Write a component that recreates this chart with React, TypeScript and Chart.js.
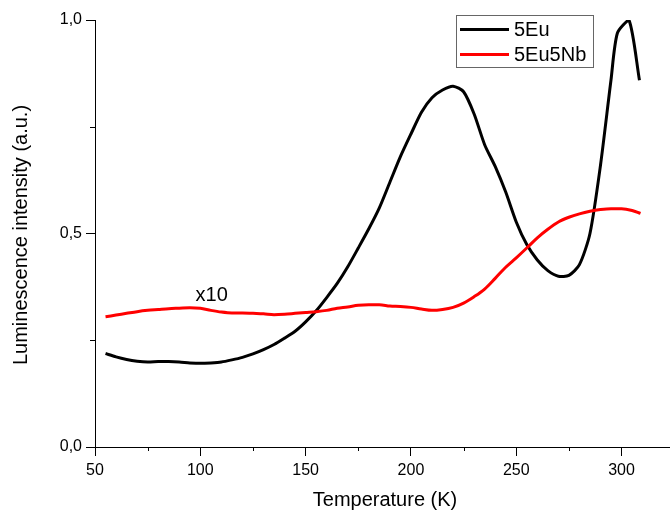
import React, { useEffect, useRef } from "react";
import { Chart, registerables } from "chart.js";

Chart.register(...registerables);

const temps5Eu = [55, 60, 65, 70, 75, 80, 85, 90, 95, 100, 105, 110, 115, 120, 125, 130, 135, 140, 145, 150, 155, 160, 165, 170, 175, 180, 185, 190, 195, 200, 205, 210, 215, 220, 225, 230, 235, 240, 245, 250, 255, 260, 265, 270, 275, 280, 285, 290, 295, 298, 303.5, 308.5];
const values5Eu = [0.219, 0.211, 0.205, 0.201, 0.199, 0.2, 0.2, 0.199, 0.197, 0.196, 0.197, 0.199, 0.204, 0.21, 0.218, 0.228, 0.24, 0.255, 0.271, 0.293, 0.319, 0.35, 0.383, 0.422, 0.466, 0.511, 0.56, 0.62, 0.68, 0.733, 0.784, 0.818, 0.836, 0.845, 0.832, 0.78, 0.708, 0.657, 0.597, 0.527, 0.474, 0.438, 0.413, 0.4, 0.402, 0.427, 0.5, 0.66, 0.86, 0.969, 1.0, 0.859];

const temps5Eu5Nb = [55, 60, 65, 70, 75, 80, 85, 90, 95, 100, 105, 110, 115, 120, 125, 130, 135, 140, 145, 150, 155, 160, 165, 170, 175, 180, 185, 190, 195, 200, 205, 210, 215, 220, 225, 230, 235, 240, 245, 250, 255, 260, 265, 270, 275, 280, 285, 290, 295, 300, 305, 309];
const values5Eu5Nb = [0.305, 0.309, 0.313, 0.317, 0.32, 0.322, 0.324, 0.325, 0.326, 0.325, 0.32, 0.316, 0.314, 0.314, 0.313, 0.312, 0.31, 0.311, 0.313, 0.315, 0.317, 0.32, 0.325, 0.328, 0.332, 0.333, 0.333, 0.33, 0.329, 0.327, 0.323, 0.32, 0.322, 0.327, 0.337, 0.352, 0.37, 0.395, 0.421, 0.443, 0.466, 0.49, 0.51, 0.527, 0.538, 0.546, 0.552, 0.556, 0.558, 0.558, 0.554, 0.547];

const seriesLabels = ["5Eu", "5Eu5Nb"];
const seriesColors = ["#000000", "#ff0000"];

const xMajorTicks = [50, 100, 150, 200, 250, 300];
const xMinorTicks = [75, 125, 175, 225, 275];
const yMajorTicks = [0, 0.5, 1.0];
const yMinorTicks = [0.25, 0.75];

const xTitle = "Temperature (K)";
const yTitle = "Luminescence intensity (a.u.)";
const annotationText = "x10";
const annotationPos = { x: 105.4, y: 0.356 };

const FONT = "'Liberation Sans', Arial, sans-serif";

const extrasPlugin = {
  id: "extras",
  afterDraw(chart: any) {
    const ctx = chart.ctx;
    const xs = chart.scales.x;
    const ys = chart.scales.y;
    const area = chart.chartArea;
    ctx.save();
    // minor ticks
    ctx.strokeStyle = "#000";
    ctx.lineWidth = 1;
    ctx.beginPath();
    xMinorTicks.forEach((v) => {
      const px = Math.round(xs.getPixelForValue(v)) + 0.5;
      ctx.moveTo(px, area.bottom);
      ctx.lineTo(px, area.bottom + 4);
    });
    yMinorTicks.forEach((v) => {
      const py = Math.round(ys.getPixelForValue(v)) + 0.5;
      ctx.moveTo(area.left, py);
      ctx.lineTo(area.left - 5, py);
    });
    ctx.stroke();

    // axis titles
    ctx.fillStyle = "#000";
    ctx.font = `20px ${FONT}`;
    ctx.textAlign = "center";
    ctx.textBaseline = "alphabetic";
    ctx.fillText(xTitle, 385, 506);
    ctx.save();
    ctx.translate(27, 235);
    ctx.rotate(-Math.PI / 2);
    ctx.fillText(yTitle, 0, 0);
    ctx.restore();

    // annotation
    ctx.font = `20px ${FONT}`;
    ctx.textAlign = "center";
    ctx.textBaseline = "middle";
    ctx.fillText(annotationText, xs.getPixelForValue(annotationPos.x), ys.getPixelForValue(annotationPos.y));

    // legend
    const bx = 456.5, by = 15.5, bw = 137, bh = 52;
    ctx.fillStyle = "#fff";
    ctx.fillRect(bx, by, bw, bh);
    ctx.strokeStyle = "#666";
    ctx.lineWidth = 1;
    ctx.strokeRect(bx, by, bw, bh);
    ctx.font = `20px ${FONT}`;
    ctx.textAlign = "left";
    ctx.textBaseline = "middle";
    chart.data.datasets.forEach((ds: any, i: number) => {
      const ly = 29.5 + i * 25;
      ctx.strokeStyle = ds.borderColor;
      ctx.lineWidth = 3;
      ctx.beginPath();
      ctx.moveTo(460, ly);
      ctx.lineTo(509, ly);
      ctx.stroke();
      ctx.fillStyle = "#000";
      ctx.fillText(ds.label, 514, ly + 1);
    });
    ctx.restore();
  },
};

export default function App() {
  const canvasRef = useRef<HTMLCanvasElement | null>(null);

  useEffect(() => {
    if (!canvasRef.current) return;
    const chart = new Chart(canvasRef.current, {
      type: "line",
      data: {
        datasets: [
          {
            label: seriesLabels[0],
            data: temps5Eu.map((t, i) => ({ x: t, y: values5Eu[i] })),
            borderColor: seriesColors[0],
            backgroundColor: seriesColors[0],
            borderWidth: 3,
            pointRadius: 0,
            tension: 0.25,
            order: 1,
          },
          {
            label: seriesLabels[1],
            data: temps5Eu5Nb.map((t, i) => ({ x: t, y: values5Eu5Nb[i] })),
            borderColor: seriesColors[1],
            backgroundColor: seriesColors[1],
            borderWidth: 3,
            pointRadius: 0,
            cubicInterpolationMode: "monotone",
            order: 0,
          },
        ],
      },
      options: {
        animation: false,
        responsive: false,
        layout: { padding: { top: 20, right: 0, left: 0, bottom: 0 } },
        plugins: { legend: { display: false }, tooltip: { enabled: false } },
        scales: {
          x: {
            type: "linear",
            min: 50,
            max: 323,
            afterBuildTicks: (scale: any) => {
              scale.ticks = xMajorTicks.map((v) => ({ value: v }));
            },
            afterFit: (scale: any) => {
              scale.height = 66;
            },
            grid: { display: true, drawOnChartArea: false, drawTicks: true, tickLength: 9, color: "#000", tickColor: "#000" },
            border: { display: true, color: "#000", width: 1 },
            ticks: {
              color: "#000",
              padding: 5,
              maxRotation: 0,
              autoSkip: false,
              font: { family: FONT, size: 16 },
              callback: (v: any) => String(v),
            },
          },
          y: {
            type: "linear",
            min: 0,
            max: 1,
            afterBuildTicks: (scale: any) => {
              scale.ticks = yMajorTicks.map((v) => ({ value: v }));
            },
            afterFit: (scale: any) => {
              scale.width = 95;
            },
            grid: { display: true, drawOnChartArea: false, drawTicks: true, tickLength: 9, color: "#000", tickColor: "#000" },
            border: { display: true, color: "#000", width: 1 },
            ticks: {
              color: "#000",
              padding: 4,
              autoSkip: false,
              font: { family: FONT, size: 16 },
              callback: (v: any) => Number(v).toFixed(1).replace(".", ","),
            },
          },
        },
      },
      plugins: [extrasPlugin],
    });
    return () => chart.destroy();
  }, []);

  return (
    <div style={{ position: "fixed", left: 0, top: 0, width: 670, height: 513, background: "#fff" }}>
      <canvas ref={canvasRef} width={670} height={513} style={{ display: "block", width: 670, height: 513 }} />
    </div>
  );
}
